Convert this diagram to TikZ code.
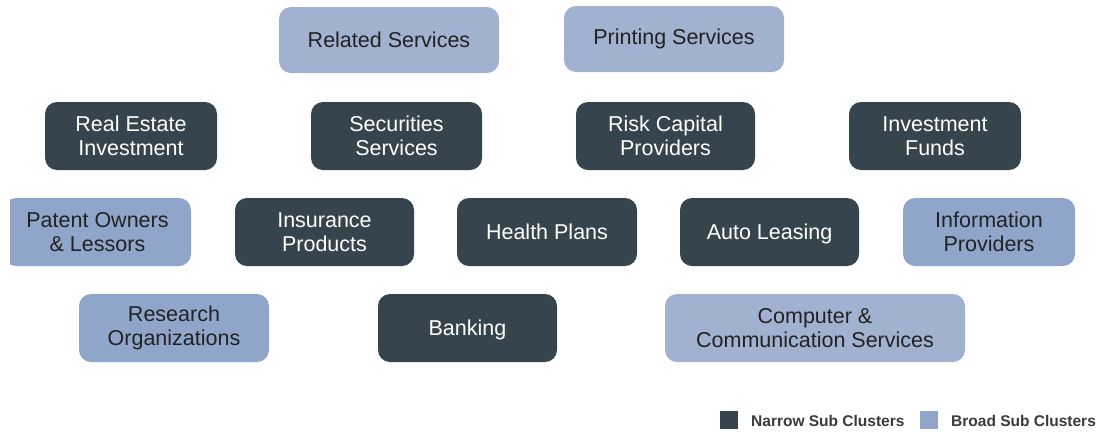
\documentclass[tikz,border=0pt]{standalone}
\usepackage{fontspec}
\setmainfont{Liberation Sans}
\definecolor{darkbox}{HTML}{36454D}
\definecolor{lightbox}{HTML}{A0B2D0}
\definecolor{broadbox}{HTML}{8FA6CA}
\definecolor{txtdark}{HTML}{222222}
\definecolor{legtxt}{HTML}{3A3A3A}
\tikzset{
  narrow/.style={fill=darkbox, rounded corners=12pt, text=white, align=center,
    font=\fontsize{21.5}{24}\selectfont, inner sep=0pt},
  broad/.style={fill=lightbox, rounded corners=12pt, text=txtdark, align=center,
    font=\fontsize{21.5}{24}\selectfont, inner sep=0pt},
  broadb/.style={broad, fill=broadbox},
  oneline/.style={text height=15pt, text depth=0pt},
  legsq/.style={minimum size=18pt, inner sep=0pt},
  legtext/.style={text=legtxt, font=\bfseries\fontsize{15.5}{18}\selectfont, anchor=west, inner sep=0pt}
}
\begin{document}
\begin{tikzpicture}[x=1pt,y=-1pt]
\useasboundingbox[fill=white] (0,0) rectangle (1105,432);
% top row
\node[broad, minimum width=220pt, minimum height=66pt] (rel) at (389,40) {Related Services};
\node[broad, minimum width=220pt, minimum height=66pt] (print) at (674,39) {Printing Services};
% second row
\node[narrow, minimum width=172pt, minimum height=68pt] (real) at (131,136) {Real Estate\\Investment};
\node[narrow, minimum width=171pt, minimum height=68pt] (sec) at (396.5,136) {Securities\\Services};
\node[narrow, minimum width=179pt, minimum height=68pt] (risk) at (665.5,136) {Risk Capital\\Providers};
\node[narrow, minimum width=172pt, minimum height=68pt] (inv) at (935,136) {Investment\\Funds};
% third row
\begin{scope}
\clip (10,180) rectangle (300,280);
\node[broadb, minimum width=187pt, minimum height=68pt] (pat) at (97.5,232) {Patent Owners\\\& Lessors};
\end{scope}
\node[narrow, minimum width=179pt, minimum height=68pt] (ins) at (324.5,232) {Insurance\\Products};
\node[narrow, oneline, minimum width=180pt, minimum height=68pt] (health) at (547,232) {Health Plans};
\node[narrow, oneline, minimum width=179pt, minimum height=68pt] (auto) at (769.5,232) {Auto Leasing};
\node[broadb, minimum width=172pt, minimum height=68pt] (info) at (989,232) {Information\\Providers};
% fourth row
\node[broadb, minimum width=190pt, minimum height=68pt] (res) at (174,328) {Research\\Organizations};
\node[narrow, oneline, minimum width=179pt, minimum height=68pt] (bank) at (467.5,328) {Banking};
\node[broad, minimum width=300pt, minimum height=68pt] (comp) at (815,328) {Computer \&\\Communication Services};
% legend
\node[legsq, fill=darkbox] (lgn) at (729,420) {};
\node[legtext] (lgnt) at (751,421) {Narrow Sub Clusters};
\node[legsq, fill=broadbox] (lgb) at (929,420) {};
\node[legtext] (lgbt) at (951,421) {Broad Sub Clusters};
\end{tikzpicture}
\end{document}
